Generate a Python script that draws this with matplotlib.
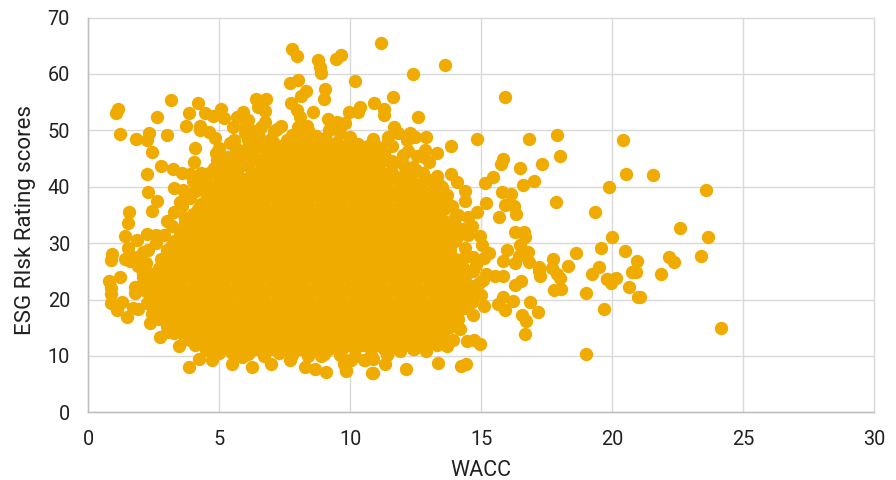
import matplotlib
matplotlib.use("Agg")
import matplotlib.pyplot as plt

# values, the scattered points around the cloud
upper_x = [7.80, 7.98, 8.79, 8.85, 8.90, 9.64, 9.47, 10.18, 11.18, 8.00, 7.71, 8.30, 8.12, 9.05, 9.01, 7.74, 10.93,
           3.17, 4.21, 1.13, 1.07, 2.65, 3.84, 4.48, 4.76, 5.08, 5.20, 5.93, 5.67, 6.12, 6.41, 6.79, 6.50, 6.75, 6.75,
           6.60, 7.38, 7.20, 7.96, 8.09, 8.57, 9.17, 9.49, 9.94, 10.36, 10.29, 9.82, 8.03, 8.37, 7.77, 3.74, 4.27, 4.27,
           4.60, 4.85, 1.22, 1.83, 2.33, 2.24, 3.00, 4.09, 2.44, 2.79, 2.24, 3.25, 4.05, 3.58, 3.90, 4.31, 4.38, 5.00,
           5.30, 5.79, 3.27, 3.64, 4.09, 2.29, 2.62, 2.44, 1.57, 3.51, 3.77, 4.80, 4.90, 4.91, 5.17, 5.55, 5.42, 5.57,
           5.55, 5.99, 5.99, 6.37, 7.07, 7.33, 6.69, 5.93, 6.31, 9.05, 8.35, 10.00, 10.89, 10.45]
upper_y = [64.5, 63.1, 62.5, 61.3, 60.1, 63.3, 62.6, 58.7, 65.4, 59.0, 58.4, 57.0, 56.1, 57.3, 55.6, 54.8, 54.9,
           55.3, 54.9, 53.7, 53.0, 52.4, 53.0, 53.0, 52.5, 53.7, 52.1, 53.3, 52.4, 51.9, 55.5, 55.5, 54.1, 53.5, 51.5,
           50.5, 50.8, 50.3, 53.6, 52.4, 53.3, 52.0, 51.5, 53.3, 54.1, 53.3, 51.3, 50.6, 50.8, 49.2, 50.8, 50.8, 50.0,
           49.7, 48.6, 49.3, 48.5, 49.6, 48.3, 49.1, 46.8, 46.2, 43.7, 42.3, 43.2, 44.3, 42.5, 42.2, 42.4, 41.5, 41.9,
           40.6, 41.5, 39.7, 39.4, 39.3, 39.0, 37.5, 35.7, 35.6, 37.3, 38.5, 39.6, 45.9, 44.7, 44.1, 44.1, 47.7, 48.3,
           50.5, 49.5, 50.6, 47.9, 47.9, 47.2, 47.0, 46.4, 46.4, 48.6, 48.6, 48.9, 48.4, 45.9]

right_x = [13.61, 12.39, 11.64, 11.30, 11.31, 12.60, 15.90, 11.69, 11.84, 12.29, 12.48, 12.16, 12.89, 11.44, 11.59, 13.86,
           14.85, 16.84, 17.91, 20.41, 18.00, 20.54, 17.34, 16.49, 15.85, 15.75, 15.45, 15.13, 17.00, 16.59, 19.87, 14.39,
           14.07, 13.84, 14.39, 15.80, 16.14, 15.20, 17.86, 19.33, 13.22, 13.05, 13.31, 13.37, 13.31, 12.86, 12.57, 12.82,
           12.00, 12.23, 10.02, 13.56, 14.83, 14.00, 14.50, 15.92, 16.26, 16.33, 15.69, 13.00,
           20.01, 19.58, 20.50, 20.94, 18.63, 17.76, 18.31, 17.71, 18.02, 17.89, 19.51, 19.22, 19.80, 19.95, 20.14, 20.80,
           20.64, 21.00, 19.01, 18.04, 17.79, 19.67, 17.21, 17.23, 17.21, 16.30, 16.64, 16.68, 16.50, 16.80, 16.00, 15.83,
           16.30, 16.43, 16.83, 15.31, 15.10, 15.18, 15.07, 15.51, 15.82, 16.53, 16.30, 16.85, 17.15, 15.85, 16.20, 15.66,
           15.92, 16.55, 16.72, 16.66, 19.00, 15.00, 15.09, 14.68, 14.20, 14.45, 14.71, 14.94, 14.41, 14.25, 13.34, 12.12,
           11.34, 10.85, 9.84, 10.00, 10.53, 10.89, 12.44, 12.89, 11.88, 13.69, 13.31, 13.94, 14.64, 14.96, 15.02, 14.70,
           14.45, 14.70, 14.64, 14.07, 14.39, 14.13,
           21.55, 23.56, 22.58, 23.67, 22.15, 22.35, 23.39, 21.85, 20.75, 20.92, 21.07, 24.17, 19.93, 19.82]
right_y = [61.5, 59.9, 55.9, 53.7, 52.7, 52.3, 55.9, 50.5, 49.5, 49.5, 48.8, 48.2, 48.9, 48.8, 47.3, 47.3,
           48.4, 48.5, 49.1, 48.3, 45.4, 42.2, 44.0, 43.3, 44.9, 44.1, 41.7, 40.6, 41.0, 40.3, 40.0, 39.2,
           40.9, 42.2, 37.4, 39.1, 38.7, 37.1, 37.3, 35.5, 38.3, 41.1, 41.9, 40.6, 45.9, 46.5, 45.5, 45.3,
           45.6, 42.0, 46.5, 36.2, 35.6, 34.6, 34.7, 36.7, 36.5, 35.1, 34.7, 36.5,
           31.0, 29.2, 28.6, 26.9, 28.2, 27.2, 25.9, 25.5, 23.9, 24.6, 25.7, 24.5, 23.6, 23.0, 23.8, 24.8,
           22.3, 20.4, 21.1, 21.9, 21.6, 18.4, 25.8, 24.2, 25.0, 31.9, 31.9, 31.0, 29.7, 28.5, 28.7, 26.9,
           26.5, 27.7, 26.7, 28.2, 27.4, 24.5, 23.4, 24.2, 24.2, 23.2, 22.6, 19.5, 17.7, 20.4, 19.8, 19.2,
           18.1, 17.2, 16.2, 13.8, 10.4, 20.8, 18.9, 17.2, 14.8, 12.7, 12.8, 12.1, 8.6, 8.2, 8.8, 7.7,
           8.5, 7.0, 7.5, 9.2, 9.3, 9.4, 11.3, 10.9, 11.5, 11.7, 12.0, 12.9, 33.0, 31.2, 29.7, 27.6,
           25.0, 22.0, 19.6, 31.0, 29.1, 17.9,
           42.1, 39.4, 32.7, 31.0, 27.5, 26.6, 27.7, 24.6, 24.8, 24.8, 20.4, 14.9, 23.3, 23.7]

lower_x = [1.54, 1.41, 0.93, 0.88, 1.41, 1.86, 2.24, 2.60, 1.54, 2.11, 1.21, 0.81, 0.88, 0.88, 0.88, 1.10, 1.29, 1.48, 1.79,
           1.73, 1.92, 2.11, 2.11, 2.37, 2.75, 3.03, 3.46, 3.87, 4.25, 4.72, 5.49, 5.60, 5.88, 6.25, 7.00, 7.70, 8.27, 8.65,
           9.08, 9.85, 9.75, 10.05, 10.57, 10.87, 6.70, 8.90, 2.68, 2.87, 2.43, 2.24]
lower_y = [33.5, 31.3, 28.1, 27.0, 27.1, 30.6, 31.6, 31.4, 29.1, 28.5, 24.0, 23.2, 22.0, 21.0, 19.3, 18.1, 19.6, 16.9, 21.1,
           18.5, 18.3, 24.7, 22.9, 15.8, 13.4, 14.2, 11.7, 8.0, 9.5, 9.2, 8.5, 10.3, 9.8, 8.0, 8.5, 9.3, 8.0, 7.6,
           7.1, 7.4, 8.6, 9.3, 9.3, 7.0, 10.5, 9.9, 17.2, 18.1, 17.5, 19.4]

# rim of the cloud, where it frays into single points
rim_x = [3.0, 3.3, 3.6, 3.2, 3.9, 4.2, 4.5, 4.3, 3.7, 4.6, 4.8, 5.1, 5.4, 5.7, 5.3, 5.8, 6.0, 6.3, 6.6, 6.9, 7.2, 7.5,
         7.0, 6.6, 7.6, 8.0, 8.4, 8.7, 9.2, 9.6, 10.3, 10.7, 11.0, 11.3, 11.6, 12.0, 12.4, 12.8, 12.7, 13.1, 13.5, 13.9,
         14.1, 13.6, 14.3, 14.4, 14.7, 14.9, 14.6, 14.4, 14.1, 13.8, 13.5, 13.0, 12.5, 11.9, 11.4, 10.8, 10.2, 9.6, 9.0,
         8.4, 7.8, 7.3, 6.7, 6.1, 5.5, 5.0, 4.5, 4.1, 3.7, 3.3, 3.0, 2.7, 2.4, 2.2, 2.1, 2.2, 2.3, 2.6, 2.9, 1.7, 1.9, 1.6,
         4.0, 4.5, 5.0, 5.5, 6.1, 6.8, 7.4, 11.0, 11.5, 12.1, 12.6, 13.2, 13.6, 14.0, 14.5, 14.8, 2.0, 1.8, 2.4,
         5.0, 5.6, 6.1, 6.5, 7.1, 6.2, 10.9, 11.4, 12.2, 12.5, 13.0, 13.7, 13.5]
rim_y = [34.0, 35.5, 36.5, 33.0, 38.0, 39.5, 40.5, 37.0, 34.5, 42.5, 43.3, 42.7, 43.0, 42.8, 45.3, 45.5, 46.5, 45.0,
         44.7, 46.2, 45.5, 46.8, 48.5, 48.2, 48.2, 49.0, 50.0, 49.0, 50.0, 49.5, 47.5, 46.8, 47.2, 46.0, 44.5, 44.0, 43.5,
         42.5, 40.5, 39.0, 38.0, 36.5, 35.0, 34.0, 32.5, 27.5, 25.0, 23.0, 21.0, 18.5, 16.5, 15.2, 13.5, 12.8, 11.5, 10.8,
         10.2, 10.2, 10.0, 10.2, 10.3, 10.0, 10.2, 10.6, 10.0, 10.3, 10.6, 10.5, 11.0, 12.0, 13.0, 14.0, 15.3, 16.5, 19.0,
         21.5, 24.0, 26.5, 28.7, 30.0, 31.5, 27.5, 26.0, 26.8,
         41.0, 41.3, 40.2, 41.7, 43.6, 42.9, 44.0, 43.6, 42.4, 42.1, 39.6, 37.0, 36.0, 33.2, 31.5, 26.2, 27.8, 22.3, 24.5,
         46.9, 47.1, 48.2, 49.5, 49.9, 50.0, 46.0, 47.6, 46.4, 43.0, 44.3, 38.6, 39.9]

# the solid middle of the cloud, single points cannot be read here so these are estimates by row
cloud_y_levels = [11.2, 12.8, 14.4, 16.0, 17.6, 19.2, 20.8, 22.4, 24.0, 25.6, 27.2, 28.8, 30.4, 32.0, 33.6, 35.2, 36.8,
                  38.4, 40.0, 41.6, 43.2, 44.8, 46.4, 48.0]
cloud_x_rows = [
    [4.7, 5.3, 5.9, 6.4, 7.0, 7.5, 8.1, 8.6, 9.2, 9.7, 10.2, 10.8, 11.3, 11.8, 12.4, 12.9],
    [3.9, 4.3, 4.8, 5.2, 5.6, 6.1, 6.5, 7.0, 7.4, 7.9, 8.3, 8.8, 9.2, 9.7, 10.1, 10.6, 11.0, 11.5, 11.9, 12.4, 12.8, 13.2],
    [3.4, 3.8, 4.2, 4.6, 5.0, 5.4, 5.9, 6.3, 6.7, 7.1, 7.6, 8.0, 8.4, 8.9, 9.3, 9.7, 10.2, 10.6, 11.0, 11.4, 11.9, 12.3, 12.7, 13.1, 13.6],
    [3.1, 3.5, 4.0, 4.4, 4.8, 5.2, 5.7, 6.1, 6.5, 6.9, 7.3, 7.8, 8.2, 8.6, 9.1, 9.5, 9.9, 10.4, 10.8, 11.2, 11.7, 12.1, 12.5, 12.9, 13.4, 13.8],
    [2.9, 3.3, 3.7, 4.2, 4.6, 5.0, 5.4, 5.9, 6.3, 6.7, 7.1, 7.6, 8.0, 8.4, 8.9, 9.3, 9.7, 10.2, 10.6, 11.0, 11.4, 11.9, 12.3, 12.7, 13.1, 13.6, 14.0],
    [2.6, 3.1, 3.5, 3.9, 4.4, 4.8, 5.2, 5.7, 6.1, 6.5, 6.9, 7.4, 7.8, 8.2, 8.7, 9.1, 9.5, 9.9, 10.4, 10.8, 11.2, 11.7, 12.1, 12.5, 12.9, 13.4, 13.8, 14.2],
    [2.5, 2.9, 3.3, 3.7, 4.2, 4.6, 5.0, 5.4, 5.9, 6.3, 6.7, 7.2, 7.6, 8.0, 8.4, 8.9, 9.3, 9.7, 10.2, 10.6, 11.0, 11.4, 11.9, 12.3, 12.7, 13.2, 13.6, 14.0, 14.4],
    [2.4, 2.7, 3.1, 3.5, 4.0, 4.4, 4.8, 5.2, 5.7, 6.1, 6.5, 7.0, 7.4, 7.8, 8.2, 8.7, 9.1, 9.5, 10.0, 10.4, 10.8, 11.2, 11.7, 12.1, 12.5, 13.0, 13.4, 13.8, 14.2, 14.6],
    [2.5, 2.9, 3.3, 3.7, 4.2, 4.6, 5.0, 5.4, 5.9, 6.3, 6.7, 7.2, 7.6, 8.0, 8.4, 8.9, 9.3, 9.7, 10.2, 10.6, 11.0, 11.4, 11.9, 12.3, 12.7, 13.2, 13.6, 14.0, 14.4],
    [2.7, 3.1, 3.5, 4.0, 4.4, 4.8, 5.2, 5.7, 6.1, 6.5, 7.0, 7.4, 7.8, 8.2, 8.7, 9.1, 9.5, 10.0, 10.4, 10.8, 11.2, 11.7, 12.1, 12.5, 13.0, 13.4, 13.8, 14.3],
    [2.8, 3.3, 3.7, 4.2, 4.6, 5.0, 5.4, 5.9, 6.3, 6.7, 7.2, 7.6, 8.0, 8.4, 8.9, 9.3, 9.7, 10.2, 10.6, 11.0, 11.4, 11.9, 12.3, 12.7, 13.2, 13.6, 14.0],
    [3.0, 3.5, 4.0, 4.4, 4.8, 5.2, 5.7, 6.1, 6.5, 7.0, 7.4, 7.8, 8.2, 8.7, 9.1, 9.5, 10.0, 10.4, 10.8, 11.2, 11.7, 12.1, 12.5, 13.0, 13.4, 13.8],
    [3.3, 3.7, 4.2, 4.6, 5.0, 5.4, 5.9, 6.3, 6.7, 7.2, 7.6, 8.0, 8.4, 8.9, 9.3, 9.7, 10.2, 10.6, 11.0, 11.4, 11.9, 12.3, 12.7, 13.2, 13.6, 14.0],
    [3.5, 4.0, 4.4, 4.8, 5.2, 5.7, 6.1, 6.5, 7.0, 7.4, 7.8, 8.2, 8.7, 9.1, 9.5, 10.0, 10.4, 10.8, 11.2, 11.7, 12.1, 12.5, 13.0, 13.4, 13.8],
    [3.7, 4.2, 4.6, 5.0, 5.4, 5.9, 6.3, 6.7, 7.2, 7.6, 8.0, 8.4, 8.9, 9.3, 9.7, 10.2, 10.6, 11.0, 11.4, 11.9, 12.3, 12.7, 13.2, 13.6],
    [4.0, 4.4, 4.8, 5.2, 5.7, 6.1, 6.5, 7.0, 7.4, 7.8, 8.2, 8.7, 9.1, 9.5, 10.0, 10.4, 10.8, 11.2, 11.7, 12.1, 12.5, 13.0, 13.4],
    [4.4, 4.8, 5.2, 5.6, 5.9, 6.3, 6.7, 7.2, 7.6, 8.0, 8.4, 8.9, 9.3, 9.7, 10.2, 10.6, 11.0, 11.4, 11.9, 12.3, 12.7, 13.1],
    [4.9, 5.3, 5.7, 6.1, 6.5, 7.0, 7.4, 7.8, 8.2, 8.7, 9.1, 9.5, 10.0, 10.4, 10.8, 11.2, 11.7, 12.1, 12.5, 12.8],
    [5.4, 5.9, 6.3, 6.7, 7.2, 7.6, 8.0, 8.4, 8.9, 9.3, 9.7, 10.2, 10.6, 11.0, 11.4, 11.9, 12.3],
    [6.1, 6.5, 7.0, 7.4, 7.8, 8.2, 8.7, 9.1, 9.5, 10.0, 10.4, 10.8, 11.2, 11.7],
    [6.7, 7.2, 7.6, 8.0, 8.4, 8.9, 9.3, 9.7, 10.2, 10.6, 11.1],
    [7.0, 7.4, 7.8, 8.2, 8.7, 9.1, 9.5, 10.0, 10.4, 10.8, 11.3],
    [7.6, 8.0, 8.4, 8.9, 9.3, 9.7, 10.2, 10.6],
    [8.2, 8.7, 9.1, 9.5, 10.0],
]

# second layer of estimates, sits in the gaps left by the first rows
gap_y_levels = [12.0, 13.6, 15.2, 16.8, 18.4, 20.0, 21.6, 23.2, 24.8, 26.4, 28.0, 29.6, 31.2, 32.8, 34.4, 36.0, 37.6,
                39.2, 40.8, 42.4, 44.0, 45.6, 47.2]
gap_x_rows = [
    [4.5, 5.0, 5.5, 6.1, 6.7, 7.2, 7.8, 8.3, 8.9, 9.4, 10.0, 10.5, 11.0, 11.6, 12.1, 12.6],
    [4.1, 4.5, 5.0, 5.4, 5.8, 6.3, 6.8, 7.2, 7.7, 8.1, 8.6, 9.0, 9.5, 9.9, 10.4, 10.8, 11.3, 11.7, 12.2, 12.6, 13.0],
    [3.6, 4.0, 4.4, 4.8, 5.2, 5.7, 6.1, 6.5, 6.9, 7.4, 7.8, 8.2, 8.7, 9.1, 9.5, 10.0, 10.4, 10.8, 11.2, 11.7, 12.1, 12.5, 12.9, 13.4],
    [3.3, 3.8, 4.2, 4.6, 5.0, 5.5, 5.9, 6.3, 6.7, 7.1, 7.6, 8.0, 8.4, 8.9, 9.3, 9.7, 10.2, 10.6, 11.0, 11.5, 11.9, 12.3, 12.7, 13.2, 13.6],
    [3.1, 3.5, 3.9, 4.4, 4.8, 5.2, 5.7, 6.1, 6.5, 6.9, 7.4, 7.8, 8.2, 8.7, 9.1, 9.5, 10.0, 10.4, 10.8, 11.2, 11.7, 12.1, 12.5, 12.9, 13.4, 13.8],
    [2.8, 3.3, 3.7, 4.2, 4.6, 5.0, 5.4, 5.9, 6.3, 6.7, 7.2, 7.6, 8.0, 8.4, 8.9, 9.3, 9.7, 10.2, 10.6, 11.0, 11.4, 11.9, 12.3, 12.7, 13.2, 13.6, 14.0],
    [2.7, 3.1, 3.5, 4.0, 4.4, 4.8, 5.2, 5.7, 6.1, 6.5, 7.0, 7.4, 7.8, 8.2, 8.7, 9.1, 9.5, 10.0, 10.4, 10.8, 11.2, 11.7, 12.1, 12.5, 13.0, 13.4, 13.8, 14.2],
    [2.7, 3.1, 3.5, 4.0, 4.4, 4.8, 5.2, 5.7, 6.1, 6.5, 7.0, 7.4, 7.8, 8.2, 8.7, 9.1, 9.5, 10.0, 10.4, 10.8, 11.2, 11.7, 12.1, 12.5, 13.0, 13.4, 13.8, 14.2],
    [2.7, 3.1, 3.5, 4.0, 4.4, 4.8, 5.2, 5.7, 6.1, 6.5, 7.0, 7.4, 7.8, 8.2, 8.7, 9.1, 9.5, 10.0, 10.4, 10.8, 11.2, 11.7, 12.1, 12.5, 13.0, 13.4, 13.8, 14.2],
    [2.9, 3.3, 3.7, 4.2, 4.6, 5.0, 5.4, 5.9, 6.3, 6.7, 7.2, 7.6, 8.0, 8.4, 8.9, 9.3, 9.7, 10.2, 10.6, 11.0, 11.4, 11.9, 12.3, 12.7, 13.2, 13.6, 14.0],
    [3.0, 3.5, 4.0, 4.4, 4.8, 5.2, 5.7, 6.1, 6.5, 7.0, 7.4, 7.8, 8.2, 8.7, 9.1, 9.5, 10.0, 10.4, 10.8, 11.2, 11.7, 12.1, 12.5, 13.0, 13.4, 13.8],
    [3.2, 3.7, 4.2, 4.6, 5.0, 5.4, 5.9, 6.3, 6.7, 7.2, 7.6, 8.0, 8.4, 8.9, 9.3, 9.7, 10.2, 10.6, 11.0, 11.4, 11.9, 12.3, 12.7, 13.2, 13.6],
    [3.5, 4.0, 4.4, 4.8, 5.2, 5.7, 6.1, 6.5, 7.0, 7.4, 7.8, 8.2, 8.7, 9.1, 9.5, 10.0, 10.4, 10.8, 11.2, 11.7, 12.1, 12.5, 13.0, 13.4, 13.8],
    [3.7, 4.2, 4.6, 5.0, 5.4, 5.9, 6.3, 6.7, 7.2, 7.6, 8.0, 8.4, 8.9, 9.3, 9.7, 10.2, 10.6, 11.0, 11.4, 11.9, 12.3, 12.7, 13.2, 13.6],
    [3.9, 4.4, 4.8, 5.2, 5.7, 6.1, 6.5, 7.0, 7.4, 7.8, 8.2, 8.7, 9.1, 9.5, 10.0, 10.4, 10.8, 11.2, 11.7, 12.1, 12.5, 13.0, 13.4],
    [4.2, 4.6, 5.0, 5.4, 5.9, 6.3, 6.7, 7.2, 7.6, 8.0, 8.4, 8.9, 9.3, 9.7, 10.2, 10.6, 11.0, 11.4, 11.9, 12.3, 12.7, 13.1],
    [4.5, 5.0, 5.5, 5.9, 6.3, 6.7, 7.2, 7.6, 8.0, 8.4, 8.9, 9.3, 9.7, 10.2, 10.6, 11.0, 11.4, 11.9, 12.3, 12.7],
    [4.6, 5.1, 5.5, 5.9, 6.3, 6.7, 7.2, 7.6, 8.0, 8.4, 8.9, 9.3, 9.7, 10.2, 10.6, 11.0, 11.4, 11.9, 12.3, 12.6],
    [5.0, 5.5, 6.7, 7.0, 7.4, 7.8, 8.2, 8.7, 9.1, 9.5, 10.0, 10.4, 11.4, 11.9, 12.4],
    [4.7, 5.2, 5.7, 6.3, 6.8, 7.2, 7.6, 8.0, 8.4, 8.9, 9.3, 9.7, 10.1, 11.6, 12.1],
    [5.3, 5.8, 6.6, 7.0, 8.2, 8.6, 9.0, 9.5, 9.9, 10.2, 11.1, 11.6],
    [5.6, 6.2, 6.8, 7.3, 7.8, 8.3, 8.7, 9.2, 9.6, 10.0, 10.9, 11.3],
    [6.2, 6.9, 7.4, 7.9, 8.4, 8.8, 9.3, 9.8, 10.3, 10.7],
]

x_ticks = [0, 5, 10, 15, 20, 25, 30]
y_ticks = [0, 10, 20, 30, 40, 50, 60, 70]

plt.rcParams['font.family'] = ['Roboto', 'DejaVu Sans']

fig = plt.figure(figsize=(8.96, 4.8), dpi=100)
ax = fig.add_axes([88 / 896, (480 - 412.3) / 480, (874.3 - 88) / 896, (412.3 - 17.5) / 480])

# cloud rows first, the read points on top
for level, row in zip(cloud_y_levels + gap_y_levels, cloud_x_rows + gap_x_rows):
    ax.scatter(row, [level] * len(row), s=92, color='#F0AB00', linewidths=0, zorder=3)
for xs, ys in [(rim_x, rim_y), (upper_x, upper_y), (right_x, right_y), (lower_x, lower_y)]:
    ax.scatter(xs, ys, s=92, color='#F0AB00', linewidths=0, zorder=3)

ax.set_xlim(0, 30)
ax.set_ylim(0, 70)
ax.set_xticks(x_ticks)
ax.set_yticks(y_ticks)
ax.grid(True, color='#D9D9D9', linewidth=1.0, clip_on=False)
ax.set_axisbelow(True)
for side in ['top', 'right']:
    ax.spines[side].set_visible(False)
for side in ['left', 'bottom']:
    ax.spines[side].set_color('#BDBDBD')
    ax.spines[side].set_linewidth(1.0)
ax.tick_params(length=0, labelsize=14.3, labelcolor='#212121', pad=13)
ax.set_xlabel('WACC', fontsize=15.5, color='#212121', labelpad=8)
ax.set_ylabel('ESG RIsk Rating scores', fontsize=16, color='#212121')
ax.yaxis.set_label_coords(-0.0665, 0.486)

fig.savefig('out.png', dpi=100)
